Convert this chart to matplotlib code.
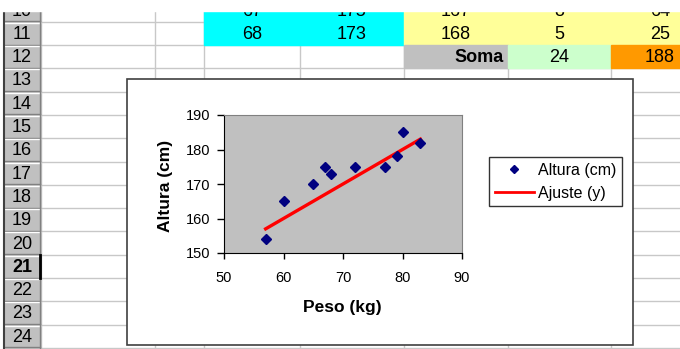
import matplotlib
matplotlib.use('Agg')
import matplotlib.pyplot as plt
from matplotlib.patches import Rectangle
from matplotlib.lines import Line2D

plt.rcParams['font.family'] = ['Liberation Sans', 'DejaVu Sans']

# chart data (sorted by weight)
peso = [57, 60, 65, 67, 68, 72, 77, 79, 80, 83]
altura = [154, 165, 170, 175, 173, 175, 175, 178, 185, 182]
ajuste = [157, 160, 165, 167, 168, 172, 177, 179, 180, 183]

# visible spreadsheet cells
linha10 = ['67', '175', '167', '8', '64']
linha11 = ['68', '173', '168', '5', '25']
soma_label = 'Soma'
soma_valores = ['24', '188']
linhas = list(range(10, 25))

fig = plt.figure(figsize=(6.8, 3.49), dpi=100)

# background axes in pixel units for the spreadsheet
bg = fig.add_axes([0, 0, 1, 1])
bg.set_xlim(0, 680)
bg.set_ylim(349, 0)
bg.axis('off')

col_x = [41, 155, 204, 300, 404, 508, 611, 709]
row_h = 23.3


def row_top(r):
    return 21.7 + (r - 11) * row_h


grid_c = '#c8c8c8'
for x in col_x[1:]:
    bg.plot([x, x], [0, 349], color=grid_c, lw=1, zorder=1)
for r in linhas:
    y = row_top(r) + row_h
    bg.plot([41, 680], [y, y], color=grid_c, lw=1, zorder=1)

# coloured cells
y10 = row_top(10)
bg.add_patch(Rectangle((204, y10), 200, 2 * row_h, color='#00ffff', zorder=2))
bg.add_patch(Rectangle((404, y10), 305, 2 * row_h, color='#ffff99', zorder=2))
y12 = row_top(12)
bg.add_patch(Rectangle((404, y12), 104, row_h, color='#c0c0c0', zorder=2))
bg.add_patch(Rectangle((508, y12), 103, row_h, color='#ccffcc', zorder=2))
bg.add_patch(Rectangle((611, y12), 98, row_h, color='#ff9900', zorder=2))

cell_fs = 13
for r, vals in [(10, linha10), (11, linha11)]:
    yc = row_top(r) + row_h / 2 + 1
    for i, v in enumerate(vals):
        xc = (col_x[2 + i] + col_x[3 + i]) / 2
        bg.text(xc, yc, v, ha='center', va='center', fontsize=cell_fs, zorder=3)
yc = y12 + row_h / 2 + 1
bg.text(504, yc, soma_label, ha='right', va='center', fontsize=cell_fs,
        fontweight='bold', zorder=3)
bg.text((508 + 611) / 2, yc, soma_valores[0], ha='center', va='center',
        fontsize=cell_fs, zorder=3)
bg.text((611 + 709) / 2, yc, soma_valores[1], ha='center', va='center',
        fontsize=cell_fs, zorder=3)

# row headers
bg.add_patch(Rectangle((4, 0), 37, 349, color='#c0c0c0', zorder=2))
for r in linhas:
    yt = row_top(r)
    bg.plot([5, 40], [yt + 1, yt + 1], color='white', lw=1, zorder=3)
    bg.plot([5, 40], [yt + row_h - 0.5, yt + row_h - 0.5], color='#808080',
            lw=1, zorder=3)
    bold = r == 21
    bg.text(22, yt + row_h / 2 + 1, str(r), ha='center', va='center',
            fontsize=cell_fs, fontweight='bold' if bold else 'normal', zorder=4)
bg.plot([40, 40], [0, 349], color='#808080', lw=1, zorder=3)
bg.plot([4, 4], [0, 349], color='#404040', lw=1.5, zorder=3)
t21 = row_top(21)
bg.plot([40, 40], [t21, t21 + row_h], color='black', lw=2, zorder=4)

# white strip at the very top
bg.add_patch(Rectangle((0, 0), 680, 11, color='white', zorder=10))

# chart area
bg.add_patch(Rectangle((127, 79), 506, 266, facecolor='white',
                       edgecolor='#404040', lw=1.2, zorder=6))

# plot area
ax = fig.add_axes([224 / 680, (349 - 253) / 349, 238 / 680, 138 / 349])
ax.set_facecolor('#c0c0c0')
ax.plot(peso, ajuste, color='red', lw=2.4, zorder=2)
ax.plot(peso, altura, ls='none', marker='D', ms=5.5, color='#000080', zorder=3)
ax.set_xlim(50, 90)
ax.set_ylim(150, 190)
ax.set_xticks([50, 60, 70, 80, 90])
ax.set_yticks([150, 160, 170, 180, 190])
ax.tick_params(axis='x', direction='out', length=4, width=1, labelsize=10.5,
               pad=9)
ax.tick_params(axis='y', direction='out', length=5, width=1, labelsize=10.5,
               pad=5)
for s in ['left', 'bottom']:
    ax.spines[s].set_color('black')
for s in ['top', 'right']:
    ax.spines[s].set_color('#808080')
ax.set_xlabel('Peso (kg)', fontweight='bold', fontsize=12.5)
ax.set_ylabel('Altura (cm)', fontweight='bold', fontsize=12.5)
ax.xaxis.set_label_coords((342 - 224) / 238, (253 - 300) / 138)
ax.yaxis.set_label_coords((173 - 224) / 238, (253 - 186) / 138)

handles = [Line2D([], [], ls='none', marker='D', ms=4.5, color='#000080'),
           Line2D([], [], color='red', lw=2)]
leg = ax.legend(handles, ['Altura (cm)', 'Ajuste (y)'], loc='upper left',
                bbox_to_anchor=(489 / 680, 1 - 157 / 349),
                bbox_transform=fig.transFigure, fontsize=11.5, frameon=True,
                fancybox=False, edgecolor='black', borderpad=0.35,
                labelspacing=0.5, handlelength=2.45, handletextpad=0.25,
                borderaxespad=0)
leg.get_frame().set_linewidth(1)

fig.savefig('out.png', dpi=100)
